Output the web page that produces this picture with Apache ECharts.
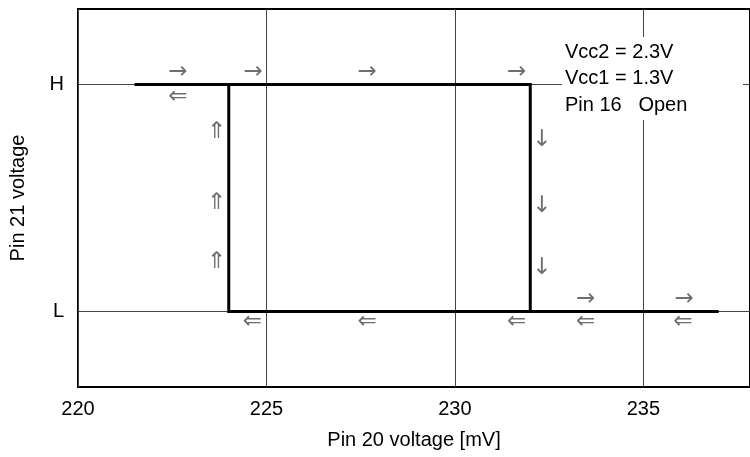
<!DOCTYPE html>
<html>
<head>
<meta charset="utf-8">
<script src="https://cdn.jsdelivr.net/npm/echarts@6/dist/echarts.min.js"></script>
<style>
  html, body { margin: 0; padding: 0; background: #fff; }
  #chart { width: 750px; height: 457px; }
</style>
</head>
<body>
<div id="chart"></div>
<script>
// Logic levels on the output pin (plotted on a 0..5 scale)
const levelL = 1;
const levelH = 4;
const levelNames = { 1: 'L', 4: 'H' };

// Hysteresis loop: rising edge threshold 232 mV, falling edge threshold 224 mV
const loopPath = [[221.5, 4], [232, 4], [232, 1], [224, 1], [224, 4]];
const lowTail = [[232, 1], [237, 1]];

// Direction markers along the loop
const rightArrows = [[222.65, 4.16], [224.65, 4.16], [227.67, 4.16], [231.64, 4.16], [233.47, 1.16], [236.08, 1.16]];
const leftArrows = [[222.65, 3.84], [224.63, 0.86], [227.67, 0.86], [231.64, 0.86], [233.47, 0.86], [236.05, 0.86]];
const upArrows = [[223.68, 3.37], [223.68, 2.44], [223.68, 1.65]];
const downArrows = [[232.3, 3.27], [232.3, 2.39], [232.3, 1.58]];

const conditions = ['Vcc2 = 2.3V', 'Vcc1 = 1.3V', 'Pin 16   Open'];

const FONT = 'Liberation Sans, Arial, sans-serif';
const FS = 20;

function arrowSeries(data, glyph) {
  return {
    type: 'scatter',
    data: data,
    symbolSize: 1,
    itemStyle: { color: 'transparent' },
    silent: true,
    z: 4,
    label: {
      show: true,
      position: 'inside',
      formatter: glyph,
      color: '#4a4a4a',
      fontSize: 23,
      fontFamily: 'DejaVu Sans, sans-serif'
    }
  };
}

const chart = echarts.init(document.getElementById('chart'), null, { renderer: 'canvas' });

chart.setOption({
  animation: false,
  backgroundColor: '#fff',
  grid: {
    left: 78, top: 9, right: -2, bottom: 70,
    show: true, borderColor: '#000', borderWidth: 2, backgroundColor: 'transparent'
  },
  xAxis: {
    type: 'value',
    min: 220, max: 237.83, interval: 5,
    axisLine: { show: false },
    axisTick: { show: false },
    axisLabel: {
      fontSize: FS, color: '#000', fontFamily: FONT, margin: 12,
      showMaxLabel: false,
      formatter: v => (v % 5 === 0 ? String(v) : '')
    },
    splitLine: { show: true, lineStyle: { color: '#444', width: 1 } },
    name: 'Pin 20 voltage [mV]',
    nameLocation: 'middle',
    nameGap: 43,
    nameTextStyle: { fontSize: FS, color: '#000', fontFamily: FONT }
  },
  yAxis: {
    type: 'value',
    min: 0, max: 5, interval: 1,
    axisLine: { show: false },
    axisTick: { show: false },
    splitLine: { show: false },
    axisLabel: {
      fontSize: FS, color: '#000', fontFamily: FONT, margin: 14,
      formatter: v => levelNames[v] || ''
    },
    name: 'Pin 21 voltage',
    nameLocation: 'middle',
    nameGap: 50,
    nameTextStyle: { fontSize: FS, color: '#000', fontFamily: FONT }
  },
  series: [
    {
      type: 'line',
      data: loopPath,
      showSymbol: false,
      lineStyle: { color: '#000', width: 3, join: 'miter' },
      z: 5,
      markLine: {
        silent: true,
        symbol: 'none',
        label: { show: false },
        lineStyle: { color: '#444', width: 1, type: 'solid' },
        z: 1,
        data: [{ yAxis: levelH }, { yAxis: levelL }]
      }
    },
    {
      type: 'line',
      data: lowTail,
      showSymbol: false,
      lineStyle: { color: '#000', width: 3 },
      z: 5
    },
    arrowSeries(rightArrows, '→'),
    arrowSeries(leftArrows, '⇐'),
    arrowSeries(upArrows, '⇑'),
    arrowSeries(downArrows, '↓')
  ],
  graphic: [
    {
      type: 'rect',
      left: 562, top: 37,
      z: 100,
      shape: { width: 181, height: 83 },
      style: { fill: '#fff' }
    },
    ...conditions.map((t, i) => ({
      type: 'text',
      left: 565, top: 42 + i * 26.5,
      z: 101,
      style: { text: t, fontSize: FS, fill: '#000', fontFamily: FONT }
    }))
  ]
});
</script>
</body>
</html>
